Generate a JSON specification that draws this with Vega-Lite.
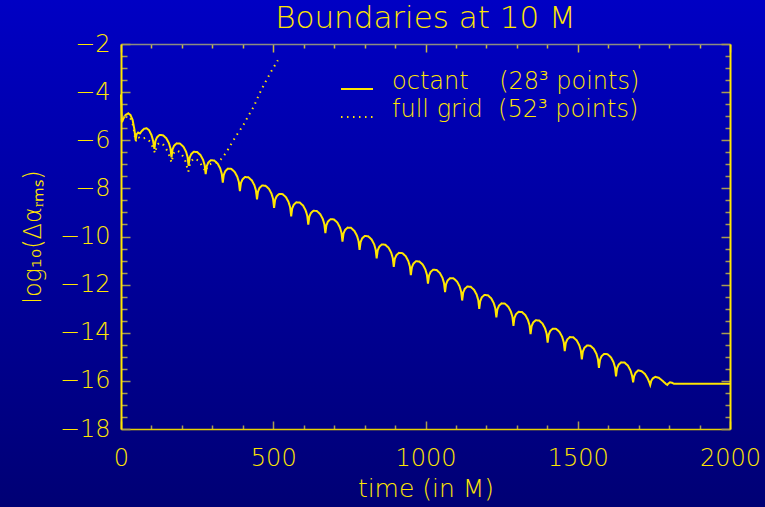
{
"$schema": "https://vega.github.io/schema/vega-lite/v6.json",
"width": 609, "height": 385,
"autosize": {"type": "none"},
"padding": {"left": 121, "top": 44, "right": 35, "bottom": 78},
"background": "#00009c",
"title": {"text": "Boundaries at 10 M", "color": "#ffe600", "fontSize": 31, "font": "DejaVu Sans", "fontWeight": 200, "anchor": "middle", "baseline": "top", "offset": -36, "zindex": 1},
"datasets": {
"octant": [
{"t":0,"v":-4.1},{"t":3,"v":-5.25},{"t":8,"v":-5.1},{"t":15,"v":-4.95},{"t":24,"v":-4.88},{"t":31,"v":-4.95},{"t":38,"v":-5.15},{"t":44,"v":-5.55},{"t":48,"v":-6.0},
{"t":51,"v":-5.75},{"t":56,"v":-5.68},{"t":62,"v":-5.72},{"t":68,"v":-5.62},{"t":76,"v":-5.52},{"t":84,"v":-5.5},{"t":92,"v":-5.58},{"t":100,"v":-5.78},{"t":105,"v":-6.0},
{"t":109.7,"v":-6.36},{"t":113.1,"v":-6.03},{"t":118.1,"v":-5.88},{"t":126.5,"v":-5.78},{"t":137.8,"v":-5.79},{"t":149.0,"v":-5.92},{"t":157.4,"v":-6.12},{"t":162.5,"v":-6.34},
{"t":165.8,"v":-6.71},{"t":169.2,"v":-6.38},{"t":174.2,"v":-6.23},{"t":182.6,"v":-6.13},{"t":193.9,"v":-6.14},{"t":205.1,"v":-6.27},{"t":213.5,"v":-6.47},{"t":218.6,"v":-6.69},
{"t":222.0,"v":-7.06},{"t":225.4,"v":-6.73},{"t":230.4,"v":-6.58},{"t":238.8,"v":-6.48},{"t":250.1,"v":-6.49},{"t":261.3,"v":-6.62},{"t":269.7,"v":-6.82},{"t":274.8,"v":-7.04},
{"t":278.1,"v":-7.41},{"t":281.5,"v":-7.08},{"t":286.5,"v":-6.93},{"t":294.9,"v":-6.83},{"t":306.2,"v":-6.84},{"t":317.4,"v":-6.97},{"t":325.8,"v":-7.17},{"t":330.9,"v":-7.39},
{"t":334.3,"v":-7.76},{"t":337.7,"v":-7.43},{"t":342.7,"v":-7.28},{"t":351.1,"v":-7.18},{"t":362.4,"v":-7.19},{"t":373.6,"v":-7.32},{"t":382.0,"v":-7.52},{"t":387.1,"v":-7.74},
{"t":390.4,"v":-8.11},{"t":393.8,"v":-7.78},{"t":398.8,"v":-7.63},{"t":407.2,"v":-7.53},{"t":418.5,"v":-7.54},{"t":429.7,"v":-7.67},{"t":438.1,"v":-7.87},{"t":443.2,"v":-8.09},
{"t":446.6,"v":-8.46},{"t":450.0,"v":-8.13},{"t":455.0,"v":-7.98},{"t":463.4,"v":-7.88},{"t":474.7,"v":-7.89},{"t":485.9,"v":-8.02},{"t":494.3,"v":-8.22},{"t":499.4,"v":-8.44},
{"t":502.7,"v":-8.81},{"t":506.1,"v":-8.48},{"t":511.1,"v":-8.33},{"t":519.5,"v":-8.23},{"t":530.8,"v":-8.24},{"t":542.0,"v":-8.37},{"t":550.4,"v":-8.57},{"t":555.5,"v":-8.79},
{"t":558.9,"v":-9.16},{"t":562.3,"v":-8.83},{"t":567.3,"v":-8.68},{"t":575.7,"v":-8.58},{"t":587.0,"v":-8.59},{"t":598.2,"v":-8.72},{"t":606.6,"v":-8.92},{"t":611.7,"v":-9.14},
{"t":615.0,"v":-9.51},{"t":618.4,"v":-9.18},{"t":623.4,"v":-9.03},{"t":631.8,"v":-8.93},{"t":643.1,"v":-8.94},{"t":654.3,"v":-9.07},{"t":662.7,"v":-9.27},{"t":667.8,"v":-9.49},
{"t":671.2,"v":-9.86},{"t":674.6,"v":-9.53},{"t":679.6,"v":-9.38},{"t":688.0,"v":-9.28},{"t":699.3,"v":-9.29},{"t":710.5,"v":-9.42},{"t":718.9,"v":-9.62},{"t":724.0,"v":-9.84},
{"t":727.3,"v":-10.21},{"t":730.7,"v":-9.88},{"t":735.7,"v":-9.73},{"t":744.1,"v":-9.63},{"t":755.4,"v":-9.64},{"t":766.6,"v":-9.77},{"t":775.0,"v":-9.97},{"t":780.1,"v":-10.19},
{"t":783.5,"v":-10.56},{"t":786.9,"v":-10.23},{"t":791.9,"v":-10.08},{"t":800.3,"v":-9.98},{"t":811.6,"v":-9.99},{"t":822.8,"v":-10.12},{"t":831.2,"v":-10.32},{"t":836.3,"v":-10.54},
{"t":839.6,"v":-10.91},{"t":843.0,"v":-10.58},{"t":848.0,"v":-10.43},{"t":856.4,"v":-10.33},{"t":867.7,"v":-10.34},{"t":878.9,"v":-10.47},{"t":887.3,"v":-10.67},{"t":892.4,"v":-10.89},
{"t":895.8,"v":-11.26},{"t":899.2,"v":-10.93},{"t":904.2,"v":-10.78},{"t":912.6,"v":-10.68},{"t":923.9,"v":-10.69},{"t":935.1,"v":-10.82},{"t":943.5,"v":-11.02},{"t":948.6,"v":-11.24},
{"t":951.9,"v":-11.61},{"t":955.3,"v":-11.28},{"t":960.3,"v":-11.13},{"t":968.7,"v":-11.03},{"t":980.0,"v":-11.04},{"t":991.2,"v":-11.17},{"t":999.6,"v":-11.37},{"t":1004.7,"v":-11.59},
{"t":1008.1,"v":-11.96},{"t":1011.5,"v":-11.63},{"t":1016.5,"v":-11.48},{"t":1024.9,"v":-11.38},{"t":1036.2,"v":-11.39},{"t":1047.4,"v":-11.52},{"t":1055.8,"v":-11.72},{"t":1060.9,"v":-11.94},
{"t":1064.2,"v":-12.31},{"t":1067.6,"v":-11.98},{"t":1072.6,"v":-11.83},{"t":1081.0,"v":-11.73},{"t":1092.3,"v":-11.74},{"t":1103.5,"v":-11.87},{"t":1111.9,"v":-12.07},{"t":1117.0,"v":-12.29},
{"t":1120.4,"v":-12.66},{"t":1123.8,"v":-12.33},{"t":1128.8,"v":-12.18},{"t":1137.2,"v":-12.08},{"t":1148.5,"v":-12.09},{"t":1159.7,"v":-12.22},{"t":1168.1,"v":-12.42},{"t":1173.2,"v":-12.64},
{"t":1176.5,"v":-13.01},{"t":1179.9,"v":-12.68},{"t":1184.9,"v":-12.53},{"t":1193.3,"v":-12.43},{"t":1204.6,"v":-12.44},{"t":1215.8,"v":-12.57},{"t":1224.2,"v":-12.77},{"t":1229.3,"v":-12.99},
{"t":1232.7,"v":-13.36},{"t":1236.1,"v":-13.03},{"t":1241.1,"v":-12.88},{"t":1249.5,"v":-12.78},{"t":1260.8,"v":-12.79},{"t":1272.0,"v":-12.92},{"t":1280.4,"v":-13.12},{"t":1285.5,"v":-13.34},
{"t":1288.8,"v":-13.71},{"t":1292.2,"v":-13.38},{"t":1297.2,"v":-13.23},{"t":1305.6,"v":-13.13},{"t":1316.9,"v":-13.14},{"t":1328.1,"v":-13.27},{"t":1336.5,"v":-13.47},{"t":1341.6,"v":-13.69},
{"t":1345.0,"v":-14.06},{"t":1348.4,"v":-13.73},{"t":1353.4,"v":-13.58},{"t":1361.8,"v":-13.48},{"t":1373.1,"v":-13.49},{"t":1384.3,"v":-13.62},{"t":1392.7,"v":-13.82},{"t":1397.8,"v":-14.04},
{"t":1401.1,"v":-14.41},{"t":1404.5,"v":-14.08},{"t":1409.5,"v":-13.93},{"t":1417.9,"v":-13.83},{"t":1429.2,"v":-13.84},{"t":1440.4,"v":-13.97},{"t":1448.8,"v":-14.17},{"t":1453.9,"v":-14.39},
{"t":1457.3,"v":-14.76},{"t":1460.7,"v":-14.43},{"t":1465.7,"v":-14.28},{"t":1474.1,"v":-14.18},{"t":1485.4,"v":-14.19},{"t":1496.6,"v":-14.32},{"t":1505.0,"v":-14.52},{"t":1510.1,"v":-14.74},
{"t":1513.4,"v":-15.11},{"t":1516.8,"v":-14.78},{"t":1521.8,"v":-14.63},{"t":1530.2,"v":-14.53},{"t":1541.5,"v":-14.54},{"t":1552.7,"v":-14.67},{"t":1561.1,"v":-14.87},{"t":1566.2,"v":-15.09},
{"t":1569.6,"v":-15.46},{"t":1573.0,"v":-15.13},{"t":1578.0,"v":-14.98},{"t":1586.4,"v":-14.88},{"t":1597.7,"v":-14.89},{"t":1608.9,"v":-15.02},{"t":1617.3,"v":-15.22},{"t":1622.4,"v":-15.44},
{"t":1625.7,"v":-15.81},{"t":1629.1,"v":-15.48},{"t":1634.1,"v":-15.33},{"t":1642.5,"v":-15.23},{"t":1653.8,"v":-15.24},{"t":1665.0,"v":-15.37},{"t":1673.4,"v":-15.57},{"t":1678.5,"v":-15.79},
{"t":1681.9,"v":-16.06},{"t":1685.3,"v":-15.80},{"t":1690.3,"v":-15.66},{"t":1698.7,"v":-15.56},{"t":1710.0,"v":-15.60},{"t":1721.2,"v":-15.72},{"t":1729.6,"v":-15.90},{"t":1734.7,"v":-16.05},
{"t":1738.0,"v":-16.17},{"t":1741.4,"v":-16.00},{"t":1746.4,"v":-15.90},{"t":1754.8,"v":-15.83},{"t":1766.0,"v":-15.87},{"t":1777.0,"v":-15.98},{"t":1785.6,"v":-16.08},{"t":1790.7,"v":-16.14},
{"t":1794.0,"v":-16.17},{"t":1797,"v":-16.12},{"t":1803,"v":-16.06},{"t":1810,"v":-16.08},{"t":1816,"v":-16.12},{"t":1900,"v":-16.12},{"t":2000,"v":-16.12}
],
"full": [
{"t":0,"v":-5.1},{"t":8,"v":-5.15},{"t":20,"v":-5.0},{"t":30,"v":-5.05},{"t":40,"v":-5.4},{"t":48,"v":-6.05},{"t":55,"v":-5.85},{"t":65,"v":-5.95},{"t":80,"v":-5.9},{"t":95,"v":-6.05},{"t":105,"v":-6.3},{"t":112,"v":-6.54},{"t":118,"v":-6.2},{"t":127,"v":-6.1},{"t":140,"v":-6.2},{"t":155,"v":-6.5},{"t":166,"v":-6.93},{"t":172,"v":-6.55},{"t":182,"v":-6.42},{"t":195,"v":-6.5},{"t":210,"v":-6.8},{"t":221,"v":-7.31},{"t":228,"v":-6.9},{"t":240,"v":-6.75},{"t":255,"v":-6.85},{"t":268,"v":-7.1},{"t":278,"v":-7.3},{"t":285,"v":-7.05},{"t":298,"v":-6.96},{"t":310,"v":-6.95},{"t":322,"v":-6.88},{"t":334,"v":-6.71},{"t":347,"v":-6.48},{"t":363,"v":-6.13},{"t":380,"v":-5.78},{"t":400,"v":-5.41},{"t":418,"v":-4.99},{"t":437,"v":-4.58},{"t":454,"v":-4.08},{"t":473,"v":-3.61},{"t":491,"v":-3.19},{"t":515,"v":-2.68}
]
},
"layer": [
{
"data": {"values": [{}]},
"mark": {"type": "rect", "stroke": null, "fill": {"gradient": "linear", "x1": 0, "y1": 0, "x2": 0, "y2": 1, "stops": [{"offset": 0, "color": "#0000c4"}, {"offset": 1, "color": "#000074"}]}},
"encoding": {
"x": {"datum": -400, "type": "quantitative", "scale": {"domain": [0, 2000], "nice": false, "zero": false},
"axis": {"orient": "top", "values": [0,100,200,300,400,500,600,700,800,900,1000,1100,1200,1300,1400,1500,1600,1700,1800,1900,2000], "labels": false, "grid": false, "title": null, "domain": true, "domainColor": "#8c8c80", "domainWidth": 1.5, "tickColor": "#c8b840", "tickWidth": 1.5, "tickSize": {"condition": {"test": "datum.value % 500 === 0", "value": -8}, "value": -4}, "zindex": 1}},
"x2": {"datum": 2120},
"y": {"datum": -0.15, "type": "quantitative", "scale": {"domain": [-18, -2], "nice": false, "zero": false},
"axis": {"orient": "right", "values": [-18,-17.5,-17,-16.5,-16,-15.5,-15,-14.5,-14,-13.5,-13,-12.5,-12,-11.5,-11,-10.5,-10,-9.5,-9,-8.5,-8,-7.5,-7,-6.5,-6,-5.5,-5,-4.5,-4,-3.5,-3,-2.5,-2], "labels": false, "grid": false, "title": null, "domain": true, "domainColor": "#ffe600", "domainWidth": 2, "tickColor": "#a89c50", "tickWidth": 1.5, "tickSize": {"condition": {"test": "datum.value % 2 === 0", "value": -9}, "value": -5}, "zindex": 1}},
"y2": {"datum": -21.3}
}
},
{
"data": {"name": "full"},
"mark": {"type": "line", "color": "#ffe600", "strokeWidth": 2},
"encoding": {
"x": {"field": "t", "type": "quantitative", "scale": {"domain": [0, 2000], "nice": false, "zero": false},
"axis": {"orient": "bottom", "values": [0,100,200,300,400,500,600,700,800,900,1000,1100,1200,1300,1400,1500,1600,1700,1800,1900,2000], "labels": false, "grid": false, "title": null, "domain": false, "tickColor": "#a89c50", "tickWidth": 1.5, "tickSize": {"condition": {"test": "datum.value % 500 === 0", "value": -8}, "value": -4}, "zindex": 1}},
"y": {"field": "v", "type": "quantitative", "scale": {"domain": [-18, -2], "nice": false, "zero": false},
"axis": {"orient": "left", "values": [-18,-17.5,-17,-16.5,-16,-15.5,-15,-14.5,-14,-13.5,-13,-12.5,-12,-11.5,-11,-10.5,-10,-9.5,-9,-8.5,-8,-7.5,-7,-6.5,-6,-5.5,-5,-4.5,-4,-3.5,-3,-2.5,-2], "labels": false, "grid": false, "title": null, "domain": false, "tickColor": "#a89c50", "tickWidth": 1.5, "tickSize": {"condition": {"test": "datum.value % 2 === 0", "value": -9}, "value": -6}, "zindex": 1}},
"strokeDash": {"datum": "f", "type": "nominal"}
}
},
{
"data": {"name": "octant"},
"mark": {"type": "line", "color": "#ffe600", "strokeWidth": 2},
"encoding": {
"x": {"field": "t", "type": "quantitative", "scale": {"domain": [0, 2000], "nice": false, "zero": false},
"axis": {"orient": "bottom", "values": [0, 500, 1000, 1500, 2000], "ticks": false, "grid": false, "domain": true, "domainColor": "#e8d200", "domainWidth": 1.5, "labelColor": "#ffe600", "labelFont": "DejaVu Sans", "labelFontWeight": 200, "labelFontSize": 24, "labelPadding": 17, "labelFlush": false, "labelOverlap": false, "format": "d", "title": "time (in M)", "titleColor": "#ffe600", "titleFont": "DejaVu Sans", "titleFontWeight": 200, "titleFontSize": 25, "titlePadding": 6, "zindex": 1}},
"y": {"field": "v", "type": "quantitative", "scale": {"domain": [-18, -2], "nice": false, "zero": false},
"axis": {"orient": "left", "values": [-18, -16, -14, -12, -10, -8, -6, -4, -2], "ticks": false, "grid": false, "domain": true, "domainColor": "#ffe600", "domainWidth": 2, "labelColor": "#ffe600", "labelFont": "DejaVu Sans", "labelFontWeight": 200, "labelFontSize": 24, "labelPadding": 11, "labelOverlap": false, "title": "log₁₀(Δαᵣₘₛ)", "titleColor": "#ffe600", "titleFont": "DejaVu Sans", "titleFontWeight": 200, "titleFontSize": 24, "titlePadding": 14, "zindex": 1}},
"strokeDash": {"datum": "o", "type": "nominal",
"scale": {"domain": ["o", "f"], "range": [[1, 0], [1.5, 4.5]]},
"legend": {"orient": "none", "legendX": 219, "legendY": 28, "title": null, "symbolType": "stroke", "symbolSize": 1024, "symbolStrokeColor": "#ffe600", "symbolStrokeWidth": 2, "labelColor": "#ffe600", "labelFont": "DejaVu Sans", "labelFontWeight": 200, "labelFontSize": 24, "labelOffset": 18, "labelLimit": 500, "labelBaseline": "alphabetic", "rowPadding": 4, "labelExpr": "datum.value == 'o' ? 'octant\u00a0\u00a0\u00a0\u00a0(28³\u00a0points)' : 'full\u00a0grid\u00a0\u00a0(52³\u00a0points)'", "zindex": 1}}
}
}
],
"resolve": {"axis": {"x": "independent", "y": "independent"}},
"config": {"view": {"stroke": null}}
}
